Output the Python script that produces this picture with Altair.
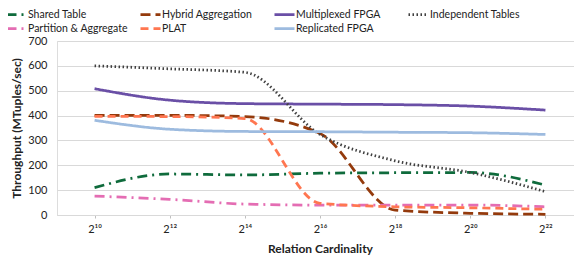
import altair as alt
import pandas as pd

cardinality = ["2¹⁰", "2¹²", "2¹⁴", "2¹⁶", "2¹⁸", "2²⁰", "2²²"]
series = ["Shared Table", "Hybrid Aggregation", "Multiplexed FPGA", "Independent Tables",
          "Partition & Aggregate", "PLAT", "Replicated FPGA"]
# legend fills column by column (2 rows), so list the entries in that order
legend_order = ["Shared Table", "Partition & Aggregate", "Hybrid Aggregation", "PLAT",
                "Multiplexed FPGA", "Replicated FPGA", "Independent Tables"]

shared_table = [110, 165, 161, 168, 170, 171, 120]
hybrid_aggregation = [401, 401, 396, 328, 20, 7, 3]
multiplexed_fpga = [508, 462, 448, 446, 444, 438, 422]
independent_tables = [600, 588, 574, 324, 218, 171, 94]
partition_aggregate = [76, 63, 44, 40, 40, 40, 33]
plat = [397, 396, 388, 47, 33, 29, 23]
replicated_fpga = [381, 345, 336, 335, 333, 331, 324]

colors = {"Shared Table": "#0F6B3C", "Hybrid Aggregation": "#943A0C", "Multiplexed FPGA": "#6A4FA6",
          "Independent Tables": "#404040", "Partition & Aggregate": "#E46DB3", "PLAT": "#FF7650",
          "Replicated FPGA": "#9DBBDF"}
dashes = {"Shared Table": [10, 5, 2, 5], "Hybrid Aggregation": [10, 5], "Multiplexed FPGA": [1, 0],
          "Independent Tables": [1.5, 2.5], "Partition & Aggregate": [10, 5, 2, 5], "PLAT": [8, 5],
          "Replicated FPGA": [1, 0]}

values = [shared_table, hybrid_aggregation, multiplexed_fpga, independent_tables,
          partition_aggregate, plat, replicated_fpga]

rows = []
for name, vals in zip(series, values):
    for i, (c, v) in enumerate(zip(cardinality, vals)):
        rows.append({"series": name, "card": c, "idx": i, "value": v})
df = pd.DataFrame(rows)

FONT = "Lato"

legend = alt.Legend(
    title=None, orient="none", legendX=-49, legendY=-35, columns=4,
    gridAlign="all", symbolType="M-1.5,0H1.5", symbolSize=178, symbolStrokeWidth=2.75,
    labelFontSize=10.5, labelFont=FONT, labelColor="#222222", labelOffset=3,
    columnPadding=6, rowPadding=0, labelLimit=200,
)

chart = alt.Chart(df).mark_line(strokeWidth=2.75, interpolate="monotone").encode(
    x=alt.X("card:N", sort=cardinality, scale=alt.Scale(type="point", padding=0.5),
            axis=alt.Axis(title="Relation Cardinality", labelAngle=0, grid=False,
                          domain=True, domainColor="#D9D9D9", ticks=True, tickSize=3,
                          tickColor="#BFBFBF", labelFontSize=11, labelFont=FONT,
                          labelColor="#222222", labelPadding=5,
                          titleFontSize=12, titleFont=FONT, titleFontWeight="bold",
                          titleColor="#222222", titlePadding=9)),
    y=alt.Y("value:Q", scale=alt.Scale(domain=[0, 700], nice=False),
            axis=alt.Axis(title="Throughput (MTuples/sec)", values=[0, 100, 200, 300, 400, 500, 600, 700],
                          grid=True, gridColor="#D9D9D9", domain=False, ticks=False,
                          labelFontSize=11, labelFont=FONT, labelColor="#222222", labelPadding=10,
                          titleFontSize=12, titleFont=FONT, titleFontWeight="bold",
                          titleColor="#222222", titlePadding=4)),
    color=alt.Color("series:N", sort=legend_order,
                    scale=alt.Scale(domain=legend_order, range=[colors[s] for s in legend_order]),
                    legend=legend),
    strokeDash=alt.StrokeDash("series:N", sort=legend_order,
                              scale=alt.Scale(domain=legend_order, range=[dashes[s] for s in legend_order]),
                              legend=legend),
    order=alt.Order("idx:Q"),
).properties(
    width=526, height=174, autosize="none",
    padding={"left": 49, "top": 33, "right": -9, "bottom": 40},
).configure_view(stroke=None).configure(background="white")

chart.save("out.html", embed_options={"renderer": "svg", "actions": False})
